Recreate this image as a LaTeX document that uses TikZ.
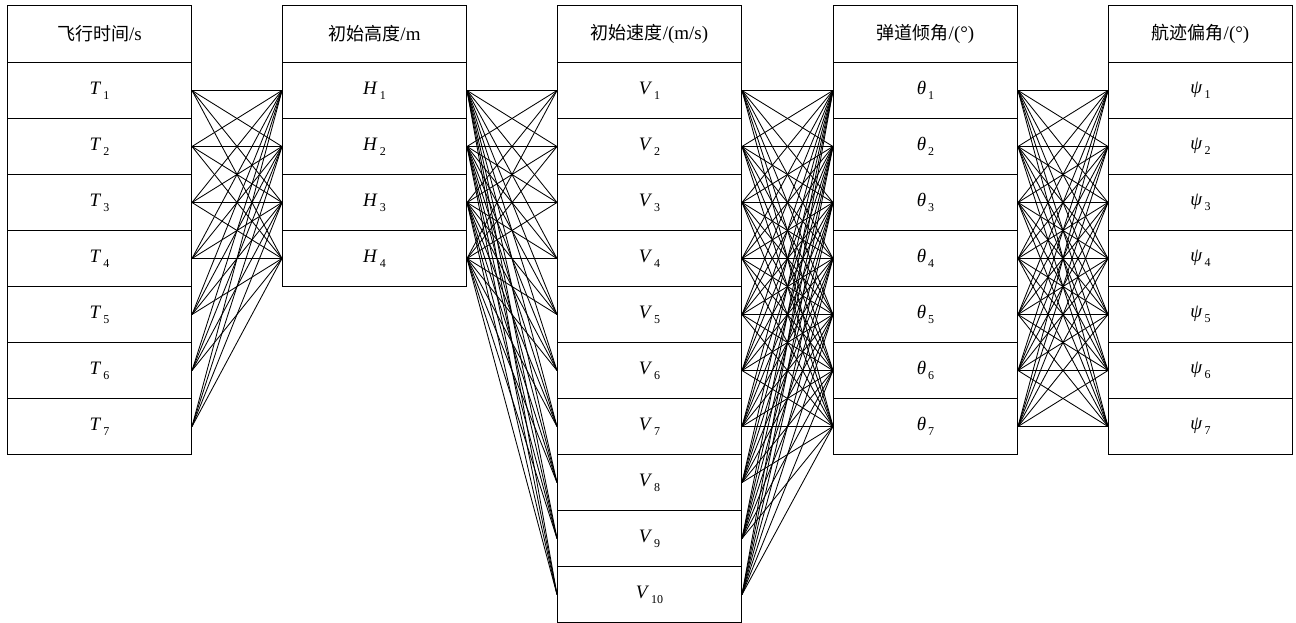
\documentclass[tikz,border=0pt]{standalone}
\usepackage{fontspec}
\setmainfont{Liberation Serif}
\newfontfamily\cjk{Noto Sans CJK SC}
% variable with a lowered, spaced subscript
\newcommand\varlbl[2]{\textit{#1}\kern2pt\raisebox{-0.6ex}{\fontsize{12}{12}\selectfont #2}}
\begin{document}
\begin{tikzpicture}[x=1pt,y=-1pt,
  cell/.style={draw, line width=1pt, minimum width=184pt, minimum height=56pt,
    inner sep=0pt, anchor=north west, font=\fontsize{19}{19}\selectfont},
  head/.style={cell, minimum height=57pt, font=\fontsize{19}{19}\selectfont},
  link/.style={line width=0.85pt}]
\useasboundingbox (0,0) rectangle (1296,623);

% column headers
\node[head] (hT) at (7,5)    {{\cjk\fontsize{18}{18}\selectfont 飞行时间}/s};
\node[head] (hH) at (282,5)  {{\cjk\fontsize{18}{18}\selectfont 初始高度}/m};
\node[head] (hV) at (557,5)  {{\cjk\fontsize{18}{18}\selectfont 初始速度}/(m/s)};
\node[head] (hA) at (833,5)  {{\cjk\fontsize{18}{18}\selectfont 弹道倾角}/(°)};
\node[head] (hP) at (1108,5) {{\cjk\fontsize{18}{18}\selectfont 航迹偏角}/(°)};

% column cells
\foreach \i in {1,...,7}
  \node[cell] (T\i) at (7,{62+56*(\i-1)}) {\varlbl{T}{\i}};
\foreach \i in {1,...,4}
  \node[cell] (H\i) at (282,{62+56*(\i-1)}) {\varlbl{H}{\i}};
\foreach \i in {1,...,10}
  \node[cell] (V\i) at (557,{62+56*(\i-1)}) {\varlbl{V}{\i}};
\foreach \i in {1,...,7}
  \node[cell] (A\i) at (833,{62+56*(\i-1)}) {\varlbl{θ}{\i}};
\foreach \i in {1,...,7}
  \node[cell] (P\i) at (1108,{62+56*(\i-1)}) {\varlbl{ψ}{\i}};

% full connections between neighbouring columns
\foreach \i in {1,...,7}
  \foreach \j in {1,...,4}
    \draw[link] (T\i.east) -- (H\j.west);
\foreach \i in {1,...,4}
  \foreach \j in {1,...,10}
    \draw[link] (H\i.east) -- (V\j.west);
\foreach \i in {1,...,10}
  \foreach \j in {1,...,7}
    \draw[link] (V\i.east) -- (A\j.west);
\foreach \i in {1,...,7}
  \foreach \j in {1,...,7}
    \draw[link] (A\i.east) -- (P\j.west);
\end{tikzpicture}
\end{document}
